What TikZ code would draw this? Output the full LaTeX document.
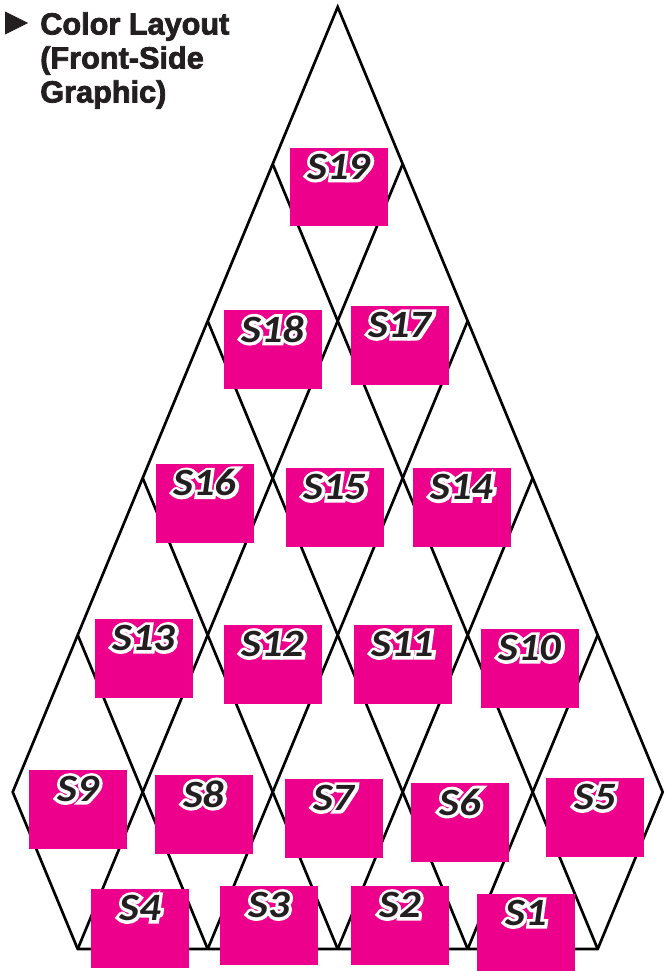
\documentclass[tikz,border=0pt]{standalone}
\usepackage{fontspec}
\usepackage{tikz}
\usetikzlibrary{positioning}

\setmainfont{Liberation Sans}
\newfontfamily\headfont{Liberation Sans Bold}[FakeBold=2.5]
\newfontfamily\tagfont{Carlito}[FakeStretch=1.1]
% same face, blown up and set in white behind the names
\newfontfamily\halofont{Carlito}[FakeStretch=1.1, FakeBold=16]

\definecolor{panelpink}{HTML}{EC008C}
\definecolor{inkdark}{HTML}{231F20}

% white halo round the panel names
\newcommand{\slab}[1]{\rlap{\color{white}\halofont\bfseries\itshape #1}#1}

\begin{document}
\begin{tikzpicture}[
            x=0.75pt, y=-0.75pt,
            grid/.style={draw=black, line width=2pt, line join=miter},
            panel/.style={
                rectangle,
                fill=panelpink,
                minimum width=73.5pt,
                minimum height=59pt,
                inner sep=0pt
            },
            tag/.style={
                anchor=center, yshift=-14.5pt,
                inner sep=0pt,
                text=inkdark,
                font=\tagfont\bfseries\itshape\fontsize{29}{29}\selectfont
            },
            heading/.style={
                align=left, inner sep=0pt,
                text=inkdark,
                font=\headfont\fontsize{23}{25.5}\selectfont
            }
        ]

        \useasboundingbox (0,0) rectangle (665,971);

        % Heading
        \node[heading, anchor=north west] (heading) at (40,12) {Color Layout\\(Front-Side\\Graphic)};
        \node[heading, anchor=base east, font=\headfont\fontsize{27}{27}\selectfont] (bullet) at (34.4,33.3) {►};

        % Outline of the tree
        \coordinate (apex) at (337.7,7);
        \draw[grid] (apex) -- (662.7,792) -- (597.7,949) -- (77.7,949) -- (12.7,792) -- cycle;

        % Diamond grid
        \foreach \i in {1,...,4} {
            \draw[grid] ({337.7+65*\i},{7+157*\i}) -- ({337.7+130*\i-390},949);
            \draw[grid] ({337.7-65*\i},{7+157*\i}) -- ({337.7-130*\i+390},949);
        }

        % Panels, top row down
        \node[panel, label={[tag]north:\slab{S19}}] (s19) at (338.8,186.9) {};

        \node[panel, label={[tag]north:\slab{S18}}] (s18) at (273,349.3) {};
        \node[panel, label={[tag]north:\slab{S17}}] (s17) at (400,345.2) {};

        \node[panel, label={[tag]north:\slab{S16}}] (s16) at (205,503.2) {};
        \node[panel, label={[tag]north:\slab{S15}}] (s15) at (335,507.3) {};
        \node[panel, label={[tag]north:\slab{S14}}] (s14) at (462,507.5) {};

        \node[panel, label={[tag]north:\slab{S13}}] (s13) at (144,658.3) {};
        \node[panel, label={[tag]north:\slab{S12}}] (s12) at (272.8,664.3) {};
        \node[panel, label={[tag]north:\slab{S11}}] (s11) at (403,664.3) {};
        \node[panel, label={[tag]north:\slab{S10}}] (s10) at (530,668.3) {};

        \node[panel, label={[tag]north:\slab{S9}}] (s9) at (78,809.3) {};
        \node[panel, label={[tag]north:\slab{S8}}] (s8) at (203.8,814.3) {};
        \node[panel, label={[tag]north:\slab{S7}}] (s7) at (333.8,818.3) {};
        \node[panel, label={[tag]north:\slab{S6}}] (s6) at (460,822.3) {};
        \node[panel, label={[tag]north:\slab{S5}}] (s5) at (595,817.3) {};

        \node[panel, label={[tag]north:\slab{S4}}] (s4) at (140,928.3) {};
        \node[panel, label={[tag]north:\slab{S3}}] (s3) at (269,925.3) {};
        \node[panel, label={[tag]north:\slab{S2}}] (s2) at (400,925.3) {};
        \node[panel, label={[tag]north:\slab{S1}}] (s1) at (526,933.3) {};

        \end{tikzpicture}
\end{document}
